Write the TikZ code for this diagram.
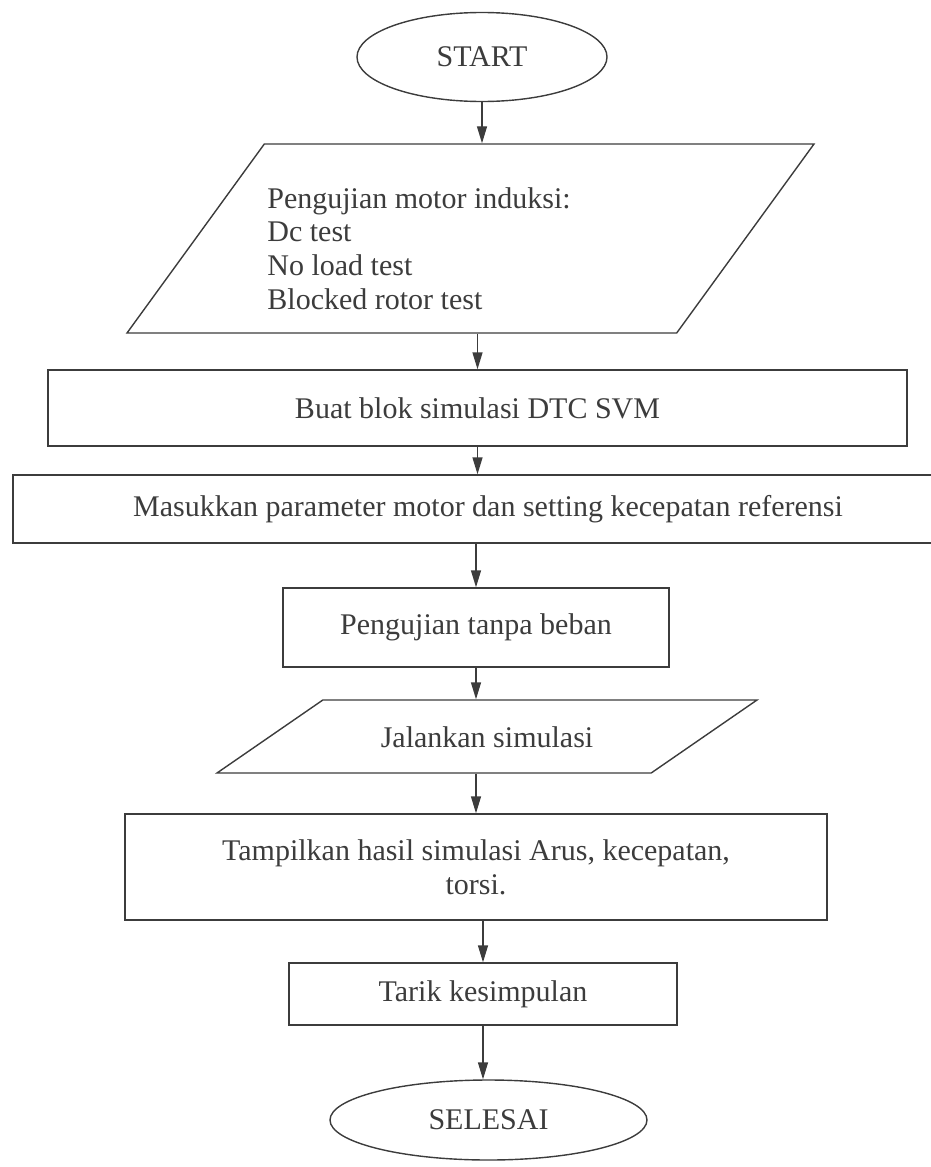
\documentclass[tikz,border=0pt]{standalone}
\usepackage{fontspec}
\setmainfont{Liberation Serif}
\usepackage{tikz}
\usetikzlibrary{shapes, arrows.meta, positioning, calc}
\definecolor{inkgray}{RGB}{60, 60, 60}

\begin{document}
\begin{tikzpicture}[x=0.5pt, y=-0.5pt,
  every node/.style={font=\fontsize{15}{16.8}\selectfont, text=inkgray},
  box/.style={draw=inkgray, line width=0.7pt, rectangle, inner sep=0pt},
  term/.style={draw=inkgray, line width=0.7pt, ellipse, inner sep=0pt},
  io/.style={draw=inkgray, line width=0.7pt, trapezium, trapezium stretches body,
    inner xsep=0pt, text height=0pt, text depth=0pt},
  arr/.style={draw=inkgray, line width=0.7pt, -{Triangle[length=8.5pt, width=5pt]}}]
  \useasboundingbox (0,0) rectangle (931,1167);

  % Start
  \node[term, minimum width=125pt, minimum height=44.5pt] (start) at (482, 57) {START};

  % Input test
  \node[io, trapezium left angle=54, trapezium right angle=126, inner ysep=47.25pt,
    minimum width=343.5pt] (test) at (470.5, 238.5) {};
  \node[anchor=north west, inner sep=0pt, align=left] (testtxt) at (267, 187)
    {Pengujian motor induksi:\\Dc test\\No load test\\Blocked rotor test};

  % Process steps
  \node[box, minimum width=429.5pt, minimum height=38pt] (buat) at (477.5, 408) {Buat blok simulasi DTC SVM};
  \node[box, minimum width=475pt, minimum height=34pt] (masuk) at (488, 509)
    {Masukkan parameter motor dan setting kecepatan referensi};
  \node[box, minimum width=193pt, minimum height=39.5pt] (uji) at (476, 627.5) {Pengujian tanpa beban};
  \node[io, trapezium left angle=34.6, trapezium right angle=145.4, inner ysep=18.25pt,
    minimum width=270pt] (jalan) at (487, 736.5) {\raisebox{-0.35em}[0pt][0pt]{Jalankan simulasi}};
  \node[box, minimum width=351pt, minimum height=53pt, align=center] (tampil) at (476, 867)
    {Tampilkan hasil simulasi Arus, kecepatan,\\torsi.};
  \node[box, minimum width=194pt, minimum height=31pt] (tarik) at (483, 994) {Tarik kesimpulan};

  % End
  \node[term, minimum width=158.5pt, minimum height=40pt] (selesai) at (488.5, 1120) {SELESAI};

  % Arrows
  \draw[arr] (start.south) -- (start.south |- test.north);
  \draw[arr] (buat.north |- test.south) -- (buat.north);
  \draw[arr] (buat.south) -- (buat.south |- masuk.north);
  \draw[arr] (uji.north |- masuk.south) -- (uji.north);
  \draw[arr] (uji.south) -- (uji.south |- jalan.north);
  \draw[arr] (tampil.north |- jalan.south) -- (tampil.north);
  \draw[arr] (tarik.north |- tampil.south) -- (tarik.north);
  \draw[arr] (tarik.south) -- (tarik.south |- selesai.north);
\end{tikzpicture}
\end{document}
